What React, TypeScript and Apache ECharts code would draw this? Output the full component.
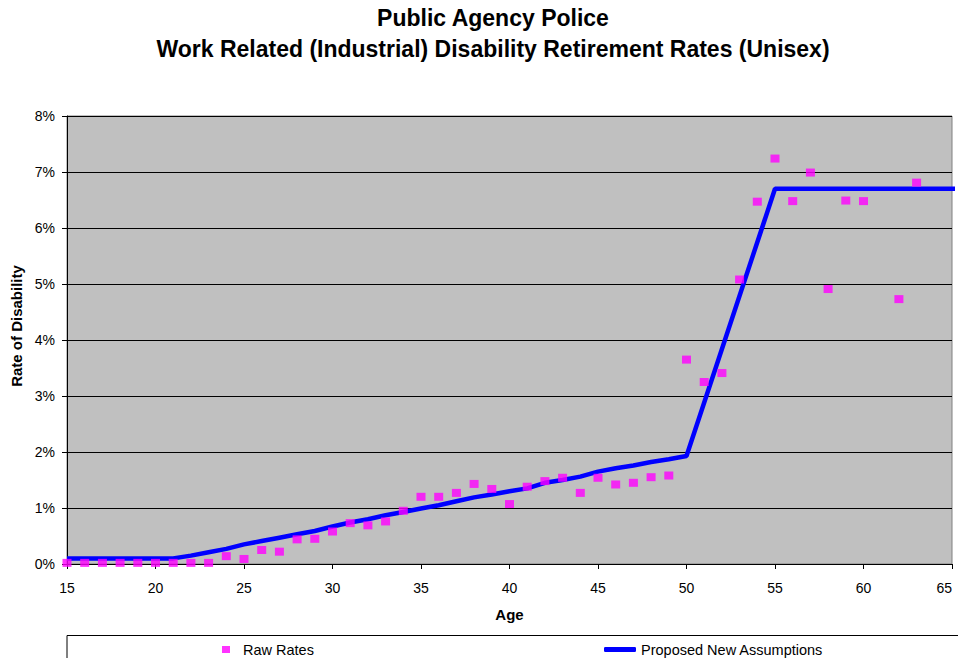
import React, { useEffect, useRef } from "react";
import * as echarts from "echarts";

const rawAges = [15, 16, 17, 18, 19, 20, 21, 22, 23, 24, 25, 26, 27, 28, 29, 30, 31, 32, 33, 34, 35, 36, 37, 38, 39, 40, 41, 42, 43, 44, 45, 46, 47, 48, 49, 50, 51, 52, 53, 54, 55, 56, 57, 58, 59, 60, 62, 63];
const rawRates = [0.02, 0.02, 0.02, 0.02, 0.02, 0.02, 0.02, 0.02, 0.02, 0.14, 0.09, 0.25, 0.22, 0.44, 0.45, 0.58, 0.73, 0.69, 0.76, 0.95, 1.2, 1.2, 1.27, 1.43, 1.34, 1.07, 1.38, 1.48, 1.54, 1.27, 1.54, 1.42, 1.45, 1.55, 1.58, 3.65, 3.25, 3.41, 5.08, 6.47, 7.24, 6.48, 6.99, 4.91, 6.49, 6.48, 4.73, 6.81];

const lineAges = [15, 16, 17, 18, 19, 20, 21, 22, 23, 24, 25, 26, 27, 28, 29, 30, 31, 32, 33, 34, 35, 36, 37, 38, 39, 40, 41, 42, 43, 44, 45, 46, 47, 48, 49, 50, 55, 60, 65, 66];
const lineRates = [0.1, 0.1, 0.1, 0.1, 0.1, 0.1, 0.1, 0.15, 0.21, 0.27, 0.35, 0.41, 0.47, 0.53, 0.59, 0.67, 0.74, 0.8, 0.87, 0.93, 0.99, 1.05, 1.12, 1.19, 1.24, 1.3, 1.35, 1.45, 1.5, 1.56, 1.65, 1.71, 1.76, 1.82, 1.87, 1.93, 6.7, 6.7, 6.7, 6.7];

const xTicks = { min: 15, max: 65, interval: 5 };
const yTicks = { min: 0, max: 8, interval: 1 };

const titleLines = ["Public Agency Police", "Work Related (Industrial) Disability Retirement Rates (Unisex)"];

const FONT = "'Liberation Sans', Arial, sans-serif";

export default function App() {
  const ref = useRef<HTMLDivElement>(null);
  useEffect(() => {
    document.body.style.margin = "0";
    const chart = echarts.init(ref.current!, null, { renderer: "svg" });
    chart.setOption({
      animation: false,
      backgroundColor: "#ffffff",
      textStyle: { fontFamily: FONT },
      title: {
        text: titleLines.join("\n"),
        left: 493,
        textAlign: "center",
        top: 2,
        padding: 0,
        textStyle: { fontFamily: FONT, fontSize: 23, fontWeight: "bold", color: "#000", lineHeight: 31 },
      },
      grid: {
        left: 67,
        top: 116,
        right: 6,
        bottom: 94,
        outerBoundsMode: "none",
        containLabel: false,
        show: true,
        backgroundColor: "#C0C0C0",
        borderColor: "#808080",
        borderWidth: 1,
      },
      xAxis: {
        type: "value",
        min: xTicks.min,
        max: xTicks.max,
        interval: xTicks.interval,
        name: "Age",
        nameLocation: "middle",
        nameGap: 43,
        nameTextStyle: { fontFamily: FONT, fontSize: 15, fontWeight: "bold", color: "#000" },
        axisLine: { show: true, lineStyle: { color: "#000", width: 1 } },
        axisTick: { show: true, length: 5, lineStyle: { color: "#000" } },
        axisLabel: { fontFamily: FONT, fontSize: 14, color: "#000", margin: 17, alignMaxLabel: "right" },
        splitLine: { show: false },
      },
      yAxis: {
        type: "value",
        min: yTicks.min,
        max: yTicks.max,
        interval: yTicks.interval,
        name: "Rate of Disability",
        nameLocation: "middle",
        nameGap: 41,
        nameTextStyle: { fontFamily: FONT, fontSize: 15, fontWeight: "bold", color: "#000", padding: [0, 0, 0, 28] },
        axisLine: { show: true, lineStyle: { color: "#000", width: 1 } },
        axisTick: { show: true, length: 5, lineStyle: { color: "#000" } },
        axisLabel: { fontFamily: FONT, fontSize: 14, color: "#000", margin: 12, formatter: (v: number) => v + "%" },
        splitLine: { show: true, lineStyle: { color: "#000", width: 1 } },
      },
      legend: [
        {
          data: [{ name: "Raw Rates", icon: "rect" }],
          left: 222,
          top: 642,
          padding: 0,
          itemWidth: 8,
          itemHeight: 7,
          textStyle: { fontFamily: FONT, fontSize: 14.5, color: "#000", padding: [0, 0, 0, 8] },
        },
        {
          data: [{ name: "Proposed New Assumptions", icon: "roundRect" }],
          left: 604,
          top: 642,
          padding: 0,
          itemWidth: 32,
          itemHeight: 5,
          textStyle: { fontFamily: FONT, fontSize: 14.5, color: "#000" },
        },
      ],
      graphic: [
        {
          type: "rect",
          shape: { x: 67, y: 635.5, width: 900, height: 40 },
          style: { fill: "none", stroke: "#000", lineWidth: 1 },
          silent: true,
        },
      ],
      series: [
        {
          name: "Proposed New Assumptions",
          type: "line",
          data: lineAges.map((a, i) => [a, lineRates[i]]),
          symbol: "none",
          clip: false,
          lineStyle: { color: "#0000FF", width: 4.5 },
          itemStyle: { color: "#0000FF" },
          z: 2,
        },
        {
          name: "Raw Rates",
          type: "scatter",
          data: rawAges.map((a, i) => [a, rawRates[i]]),
          symbol: "rect",
          symbolSize: [9, 8],
          itemStyle: { color: "#FF00FF" },
          z: 3,
        },
      ],
    });
    return () => chart.dispose();
  }, []);
  return <div ref={ref} style={{ width: 958, height: 658 }} />;
}
